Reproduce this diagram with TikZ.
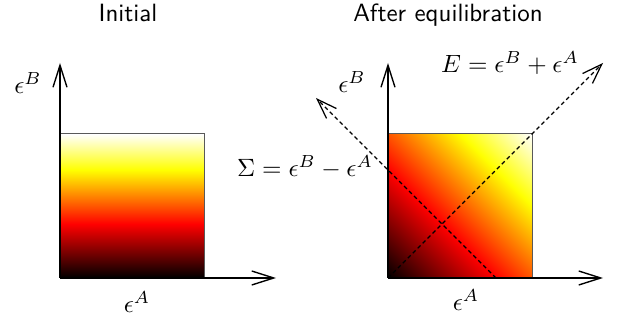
\documentclass[tikz,border=0pt]{standalone}
\usetikzlibrary{arrows.meta}
\pgfdeclareverticalshading{hotmap}{100bp}{color(0bp)=(black); color(25bp)=(black); color(43.75bp)=(red); color(62.5bp)=(yellow); color(75bp)=(white); color(100bp)=(white)}
\begin{document}
\begin{tikzpicture}[x=0.4pt,y=0.4pt,
  axisline/.style={line width=0.55pt,-{Straight Barb[length=8.8pt,width=5.6pt,line width=0.55pt]}},
  diagline/.style={line width=0.5pt,dash pattern=on 1.6pt off 1.2pt,-{Straight Barb[length=8pt,width=5.6pt,line width=0.5pt]}},
  boxline/.style={draw=black!65,line width=0.4pt},
  title/.style={font=\sffamily,anchor=base},
  lab/.style={inner sep=0pt}]
\useasboundingbox (0,0) rectangle (619,325);
% left panel
\coordinate (O1) at (60,47);
\coordinate (S1) at (204,191);
\coordinate (V1) at (60,262);
\coordinate (H1) at (276,47);
\shade[shading=hotmap] (O1) rectangle (S1);
\draw[boxline] (O1) rectangle (S1);
\draw[axisline] (O1) -- (V1);
\draw[axisline] (O1) -- (H1);
\node[title] (t1) at (128,303) {Initial};
\node[lab] (lb1) at (28,242) {$\epsilon^B$};
\node[lab] (la1) at (137,23) {$\epsilon^A$};
% right panel
\coordinate (O2) at (388,47);
\coordinate (S2) at (532,191);
\coordinate (C2) at (460,119);
\coordinate (V2) at (388,262);
\coordinate (H2) at (603,47);
\coordinate (Etip) at (603,262);
\coordinate (Sstart) at (496,47);
\coordinate (Stip) at (316,227);
\begin{scope}
  \clip (O2) rectangle (S2);
  \begin{scope}[transform canvas={rotate around={-45:(C2)}}]
    \shade[shading=hotmap] (358.18,17.18) rectangle (561.82,220.82);
  \end{scope}
\end{scope}
\draw[boxline] (O2) rectangle (S2);
\draw[diagline] (O2) -- (Etip);
\draw[diagline] (Sstart) -- (Stip);
\draw[axisline] (O2) -- (V2);
\draw[axisline] (O2) -- (H2);
\node[title] (t2) at (448,303) {After equilibration};
\node[lab] (lb2) at (352,243) {$\epsilon^B$};
\node[lab] (la2) at (466,25) {$\epsilon^A$};
\node[anchor=base] (eq1) at (510,252) {$E=\epsilon^B+\epsilon^A$};
\node[anchor=base] (eq2) at (305,148) {$\Sigma=\epsilon^B-\epsilon^A$};
\end{tikzpicture}
\end{document}
